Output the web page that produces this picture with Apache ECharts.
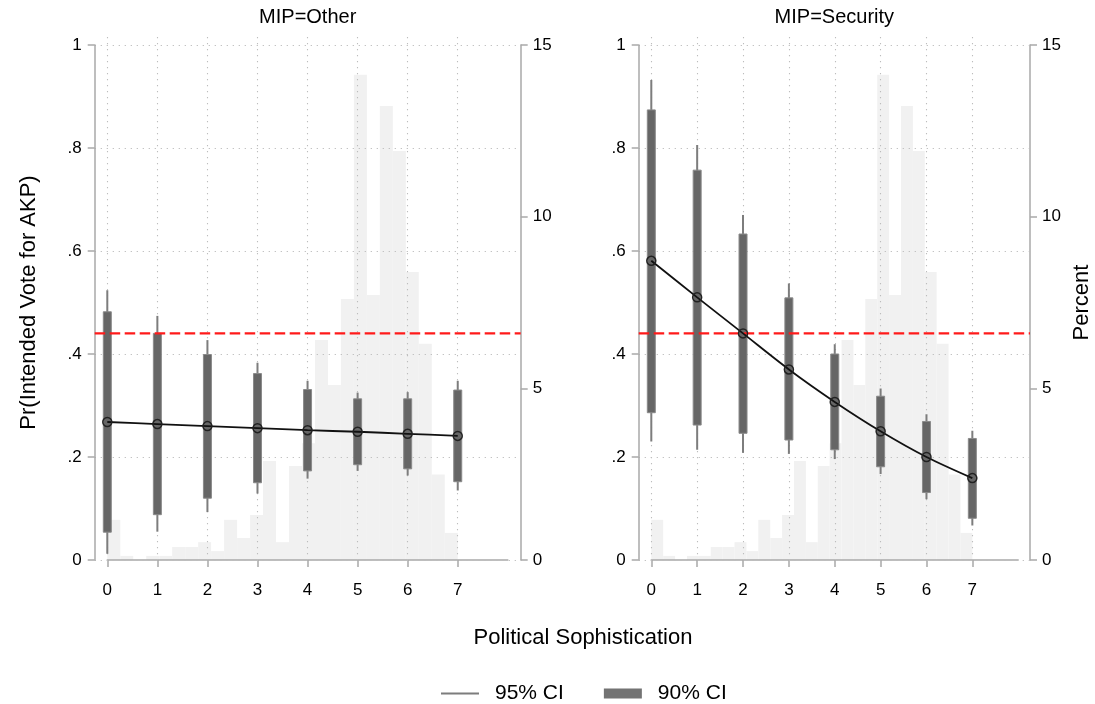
<!DOCTYPE html>
<html>
<head>
<meta charset="utf-8">
<title>Pr(Intended Vote for AKP)</title>
<script src="https://cdn.jsdelivr.net/npm/echarts@6/dist/echarts.min.js"></script>
<style>
html,body{margin:0;padding:0;background:#fff;}
#main{width:1095px;height:704px;}
</style>
</head>
<body>
<div id="main"></div>
<script>
// sophistication levels (x)
var levels = [0, 1, 2, 3, 4, 5, 6, 7];

// MIP=Other : predicted prob + intervals
var otherFit  = [0.268, 0.264, 0.260, 0.256, 0.252, 0.249, 0.245, 0.241];
var otherLo90 = [0.054, 0.088, 0.120, 0.150, 0.173, 0.185, 0.177, 0.152];
var otherHi90 = [0.482, 0.440, 0.399, 0.362, 0.331, 0.313, 0.313, 0.330];
var otherLo95 = [0.012, 0.055, 0.093, 0.129, 0.158, 0.173, 0.164, 0.135];
var otherHi95 = [0.524, 0.474, 0.427, 0.383, 0.348, 0.325, 0.326, 0.348];

// MIP=Security
var secFit  = [0.581, 0.510, 0.440, 0.370, 0.307, 0.250, 0.200, 0.159];
var secLo90 = [0.286, 0.262, 0.246, 0.233, 0.214, 0.181, 0.131, 0.081];
var secHi90 = [0.874, 0.757, 0.633, 0.509, 0.400, 0.318, 0.269, 0.236];
var secLo95 = [0.230, 0.214, 0.208, 0.206, 0.196, 0.167, 0.118, 0.067];
var secHi95 = [0.932, 0.806, 0.670, 0.537, 0.419, 0.333, 0.283, 0.251];

// histogram of sophistication (percent), 27 bins over 0..7
var histMin = 0, histMax = 7;
var histPct = [1.17, 0.12, 0, 0.12, 0.12, 0.38, 0.38, 0.52, 0.26, 1.17, 0.64, 1.31, 2.88, 0.52,
               2.74, 3.40, 6.41, 5.10, 7.60, 14.13, 7.72, 13.22, 11.91, 8.39, 6.30, 2.49, 0.79];

// reference line
var refLine = 0.44;

var FONT = "'Liberation Sans', Arial, Helvetica, sans-serif";
var AXIS_COL = '#a9a9a9';
var DOT = {color: '#bdbdbd', width: 1.1, type: [1.2, 4.8]};

var histData = histPct.map(function (v, k) {
  var w = (histMax - histMin) / histPct.length;
  return [histMin + k * w, histMin + (k + 1) * w, v];
});

function ciData(lo, hi) {
  return levels.map(function (x, k) { return [x, lo[k], hi[k]]; });
}

var panels = [
  {title: 'MIP=Other', axL: 94.7, axR: 520.7, x0: 107.3, x8: 507.8,
   fit: otherFit, lo90: otherLo90, hi90: otherHi90, lo95: otherLo95, hi95: otherHi95},
  {title: 'MIP=Security', axL: 638.7, axR: 1030, x0: 651.3, x8: 1018.2,
   fit: secFit, lo90: secLo90, hi90: secHi90, lo95: secLo95, hi95: secHi95}
];

var TOP = 45, H = 515;

var grid = [], xAxis = [], yAxis = [], series = [], graphic = [];

function probLabel(v) {
  if (v === 0) return '0';
  if (v === 1) return '1';
  return v.toFixed(1).replace(/^0/, '');
}

panels.forEach(function (p, i) {
  var gF = 3 * i, gV = 3 * i + 1, gD = 3 * i + 2;
  var yb = 5 * i;
  var dataW = p.x8 - p.x0;

  grid.push({left: p.axL, top: TOP, width: p.axR - p.axL, height: H});
  grid.push({left: p.x0, top: TOP - 8, width: dataW * 7 / 8, height: H + 14});
  grid.push({left: p.x0, top: TOP, width: dataW, height: H});

  // frame grid: x hidden, y axes both sides
  xAxis.push({type: 'value', gridIndex: gF, min: 0, max: 1, show: false});
  // vertical dotted grid lines at 0..7
  xAxis.push({type: 'value', gridIndex: gV, min: 0, max: 7, interval: 1, z: 1,
    axisLine: {show: false}, axisTick: {show: false}, axisLabel: {show: false},
    splitLine: {show: true, lineStyle: DOT}});
  // data x axis
  xAxis.push({type: 'value', gridIndex: gD, min: 0, max: 8, offset: 12.7,
    axisLine: {show: true, lineStyle: {color: AXIS_COL, width: 1.5}},
    axisTick: {show: true, length: 7, customValues: levels, lineStyle: {color: AXIS_COL, width: 1.5}},
    axisLabel: {customValues: levels, fontSize: 17, color: '#000', margin: 9, fontFamily: FONT},
    splitLine: {show: false}});

  yAxis.push({type: 'value', gridIndex: gF, position: 'left', min: 0, max: 1, interval: 0.2, z: 1,
    name: i === 0 ? 'Pr(Intended Vote for AKP)' : '',
    nameLocation: 'middle', nameGap: 55,
    nameTextStyle: {fontSize: 22, color: '#000', fontFamily: FONT},
    axisLine: {show: true, lineStyle: {color: AXIS_COL, width: 1.5}},
    axisTick: {show: true, length: 7, lineStyle: {color: AXIS_COL, width: 1.5}},
    axisLabel: {fontSize: 17, color: '#000', margin: 13, formatter: probLabel, fontFamily: FONT},
    splitLine: {show: true, lineStyle: DOT}});
  yAxis.push({type: 'value', gridIndex: gF, position: 'right', min: 0, max: 15, interval: 5,
    name: i === 1 ? 'Percent' : '',
    nameLocation: 'middle', nameGap: 41,
    nameTextStyle: {fontSize: 22, color: '#000', fontFamily: FONT},
    axisLine: {show: true, lineStyle: {color: AXIS_COL, width: 1.5}},
    axisTick: {show: true, length: 7, lineStyle: {color: AXIS_COL, width: 1.5}},
    axisLabel: {fontSize: 17, color: '#000', margin: 12, fontFamily: FONT},
    splitLine: {show: false}});
  yAxis.push({type: 'value', gridIndex: gV, min: 0, max: 1, show: false});
  yAxis.push({type: 'value', gridIndex: gD, min: 0, max: 1, show: false});
  yAxis.push({type: 'value', gridIndex: gD, min: 0, max: 15, show: false});

  // histogram
  series.push({
    type: 'custom', name: 'hist', xAxisIndex: gD, yAxisIndex: yb + 4, z: 0, silent: true,
    data: histData,
    renderItem: function (params, api) {
      var a = api.coord([api.value(0), api.value(2)]);
      var b = api.coord([api.value(1), 0]);
      return {type: 'rect', shape: {x: a[0], y: a[1], width: b[0] - a[0], height: b[1] - a[1]},
        style: {fill: '#f1f1f1'}};
    }
  });

  // reference line
  series.push({
    type: 'line', name: 'ref', xAxisIndex: gF, yAxisIndex: yb, z: 5, silent: true,
    data: [[0, refLine], [1, refLine]], symbol: 'none',
    lineStyle: {color: '#ff1a1a', width: 2.4, type: [10.5, 4.5]}
  });

  // 95% CI
  series.push({
    type: 'custom', name: '95% CI', xAxisIndex: gD, yAxisIndex: yb + 3, z: 3,
    itemStyle: {color: '#7d7d7d'},
    data: ciData(p.lo95, p.hi95),
    renderItem: function (params, api) {
      var a = api.coord([api.value(0), api.value(1)]);
      var b = api.coord([api.value(0), api.value(2)]);
      return {type: 'line', shape: {x1: a[0], y1: a[1], x2: b[0], y2: b[1]},
        style: {stroke: '#7d7d7d', lineWidth: 2}};
    }
  });

  // 90% CI
  series.push({
    type: 'custom', name: '90% CI', xAxisIndex: gD, yAxisIndex: yb + 3, z: 3,
    itemStyle: {color: '#737373'},
    data: ciData(p.lo90, p.hi90),
    renderItem: function (params, api) {
      var a = api.coord([api.value(0), api.value(2)]);
      var b = api.coord([api.value(0), api.value(1)]);
      return {type: 'rect', shape: {x: a[0] - 4, y: a[1], width: 8, height: b[1] - a[1]},
        style: {fill: '#666666', stroke: '#8a8a8a', lineWidth: 1}};
    }
  });

  // predicted line
  series.push({
    type: 'line', name: 'fit', xAxisIndex: gD, yAxisIndex: yb + 3, z: 6, silent: true,
    data: levels.map(function (x, k) { return [x, p.fit[k]]; }),
    smooth: 0.3, symbol: 'circle', symbolSize: 9, showSymbol: true,
    lineStyle: {color: '#111', width: 1.8},
    itemStyle: {color: 'rgba(0,0,0,0)', borderColor: '#222', borderWidth: 1.5}
  });

  graphic.push({type: 'text', x: (p.axL + p.axR) / 2, y: 17, silent: true,
    style: {text: p.title, fontSize: 20, fontFamily: FONT, fill: '#000', align: 'center', verticalAlign: 'middle'}});
});

graphic.push({type: 'text', x: 583, y: 638, silent: true,
  style: {text: 'Political Sophistication', fontSize: 22, fontFamily: FONT, fill: '#000',
    align: 'center', verticalAlign: 'middle'}});

var myChart = echarts.init(document.getElementById('main'), null, {renderer: 'canvas'});
myChart.setOption({
  animation: false,
  backgroundColor: '#fff',
  textStyle: {fontFamily: FONT},
  grid: grid,
  xAxis: xAxis,
  yAxis: yAxis,
  series: series,
  graphic: graphic,
  legend: {
    left: 436, top: 678, itemWidth: 38, itemHeight: 10, itemGap: 40,
    textStyle: {fontSize: 21, color: '#000', fontFamily: FONT, padding: [0, 0, 0, 11]},
    data: [{name: '95% CI', icon: 'path://M0,0H38V2.2H0Z'}, {name: '90% CI', icon: 'rect'}],
    selectedMode: false
  }
});
</script>
</body>
</html>
